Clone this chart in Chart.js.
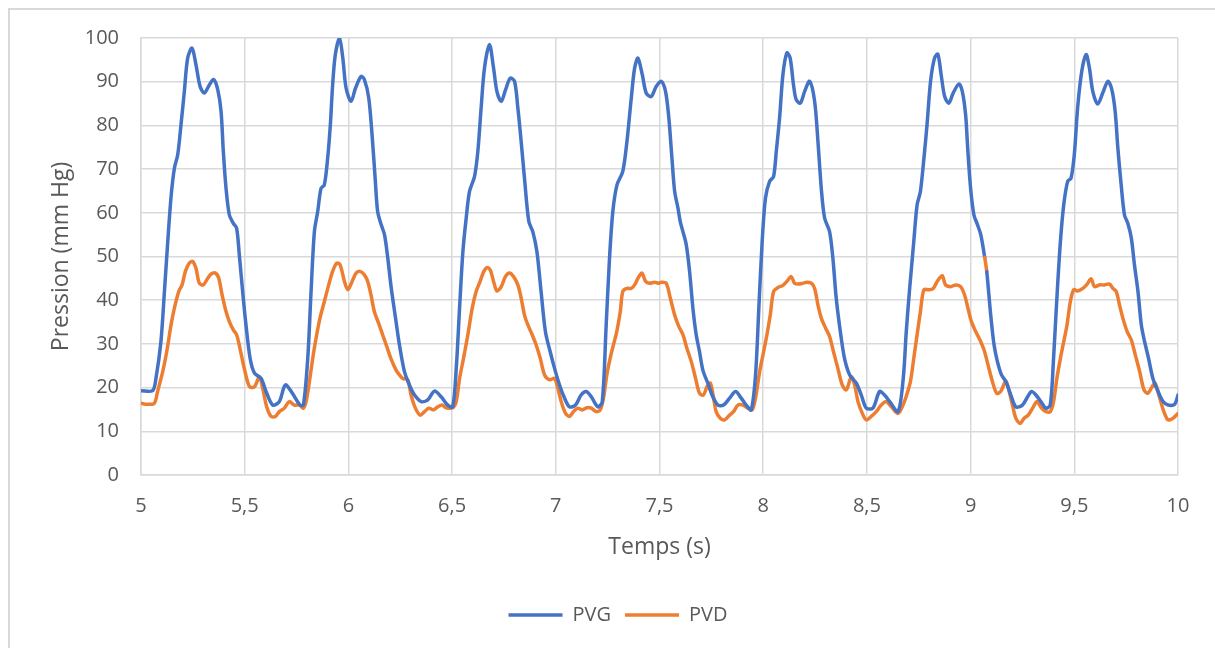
<!DOCTYPE html>
<html><head><meta charset="utf-8">
<script src="https://cdn.jsdelivr.net/npm/chart.js@4"></script>
<style>
html,body{margin:0;padding:0;background:#fff;}
#frame{position:absolute;left:8px;top:8px;width:1207px;height:640px;border-left:2px solid #d9d9d9;border-top:2px solid #d9d9d9;box-sizing:border-box;}
#wrap{position:absolute;left:0;top:0;width:1215px;height:648px;}
</style></head><body>
<div id="frame"></div>
<div id="wrap"><canvas id="c" width="1215" height="648"></canvas></div>
<script>
// X ticks (s) and Y range
const xTicks = [5, 5.5, 6, 6.5, 7, 7.5, 8, 8.5, 9, 9.5, 10];
const yTicks = [0, 10, 20, 30, 40, 50, 60, 70, 80, 90, 100];

// PVG (pression ventriculaire gauche)
const pvgTimes = [5.0,5.056,5.072,5.096,5.113,5.129,5.145,5.161,5.177,5.193,5.209,5.225,5.246,5.265,5.285,5.305,5.33,5.35,5.37,5.386,5.397,5.41,5.426,5.445,5.461,5.474,5.49,5.506,5.526,5.547,5.579,5.603,5.635,5.667,5.696,5.73,5.767,5.783,5.804,5.82,5.836,5.852,5.868,5.884,5.9,5.913,5.924,5.937,5.957,5.973,5.989,6.013,6.034,6.061,6.077,6.098,6.114,6.129,6.141,6.158,6.174,6.19,6.206,6.23,6.246,6.27,6.294,6.319,6.351,6.383,6.415,6.447,6.479,6.503,6.52,6.536,6.552,6.568,6.584,6.608,6.624,6.64,6.656,6.68,6.7,6.716,6.737,6.758,6.78,6.801,6.817,6.833,6.849,6.87,6.889,6.909,6.929,6.95,6.973,6.994,7.018,7.042,7.066,7.095,7.122,7.147,7.171,7.203,7.224,7.243,7.259,7.275,7.295,7.323,7.343,7.364,7.38,7.396,7.417,7.436,7.46,7.484,7.508,7.529,7.545,7.56,7.573,7.589,7.6,7.613,7.629,7.645,7.661,7.677,7.693,7.709,7.733,7.757,7.782,7.809,7.838,7.867,7.894,7.918,7.942,7.963,7.979,7.995,8.011,8.031,8.05,8.063,8.079,8.095,8.114,8.13,8.146,8.159,8.179,8.2,8.224,8.248,8.264,8.28,8.296,8.32,8.336,8.352,8.372,8.392,8.417,8.449,8.473,8.497,8.529,8.561,8.585,8.61,8.65,8.675,8.69,8.705,8.726,8.742,8.758,8.775,8.79,8.807,8.826,8.842,8.858,8.875,8.895,8.916,8.944,8.96,8.976,8.987,9.0,9.016,9.033,9.049,9.068,9.078,9.097,9.113,9.129,9.149,9.17,9.194,9.218,9.25,9.275,9.294,9.315,9.339,9.363,9.384,9.4,9.416,9.433,9.449,9.468,9.484,9.5,9.516,9.536,9.557,9.573,9.589,9.613,9.637,9.662,9.681,9.697,9.71,9.726,9.742,9.758,9.775,9.79,9.807,9.823,9.839,9.858,9.879,9.904,9.928,9.952,9.984,10.0];
const pvgValues = [19.3,19.3,22.1,30.5,42,53.4,63.7,70.2,73.3,80.2,87.8,95.4,97.7,93.9,88.9,87.4,89.3,90.5,88.2,83.2,74,65.6,59.5,57.6,56.5,50.4,42,34.4,26.7,23.3,22.1,19.1,16,16.8,20.6,18.7,16,16,26.7,42,55.7,60.3,65.6,66.4,72.5,80.2,89.3,96.2,100,95.4,88.5,85.5,88.5,91.2,90.5,86.3,77.9,67.9,60.3,57.3,55,49.6,43,35,29.8,23.7,20.6,18.3,16.8,17.2,19.2,17.9,16,15.6,24.4,38.2,51.1,58.8,64.9,68.3,74,84,93.1,98.5,93.1,87.8,85.5,88.2,90.8,90.1,84,76.3,67.9,58,55.7,51.1,42,32.8,28.2,24.4,20.6,17.6,15.6,16,18.3,19.1,17.9,15.6,16.8,34.4,49.6,60.3,66.4,69.5,76.3,86.3,93.1,95.4,91.6,87.4,86.6,88.9,90.1,87.8,81.7,72.5,64.9,61.1,58,55.7,52.7,46.6,38.2,32.1,28.2,24,21,17.9,16,16,17.6,19.1,17.6,16,14.9,22.9,38.2,53.4,63.4,67.2,68.3,74,81.7,91.6,96.6,95.4,89.3,85.9,85.1,87.8,90.1,85.5,76.3,65.6,58.8,55.7,49.6,40.5,32.8,26.7,22.9,21,18.3,15.3,15.3,19.1,18.3,16.8,14.5,22,33,42,53.4,61.8,64.9,72.5,80.2,90.1,95.4,96.3,91.6,86.6,85.1,87.4,89.5,87.8,82.4,74,65.6,59.5,57.3,55,49.8,46.5,36.6,29.8,26,22.9,21.4,18.3,15.6,16,17.9,19.1,18.3,16.8,15.3,16,26.7,40.5,53.4,61.8,67.2,67.9,73.3,84,92.4,96.2,93.1,87.8,84.9,87.4,90.1,88.2,83.2,74.8,66.4,59.5,57.6,54.2,48.1,42,34.4,30.5,26.7,22.1,19.1,16.8,16,16.2,18.3];

// PVD (pression ventriculaire droite)
const pvdTimes = [5.0,5.03,5.064,5.08,5.105,5.124,5.145,5.161,5.182,5.198,5.214,5.233,5.249,5.265,5.281,5.3,5.322,5.338,5.359,5.375,5.391,5.41,5.426,5.445,5.461,5.477,5.498,5.523,5.547,5.571,5.587,5.606,5.627,5.648,5.667,5.691,5.715,5.739,5.764,5.783,5.796,5.812,5.828,5.844,5.863,5.884,5.905,5.924,5.944,5.96,5.981,5.997,6.018,6.037,6.056,6.077,6.093,6.109,6.125,6.146,6.165,6.185,6.206,6.23,6.246,6.262,6.286,6.302,6.323,6.346,6.367,6.388,6.41,6.431,6.452,6.471,6.503,6.52,6.536,6.555,6.576,6.597,6.616,6.635,6.653,6.669,6.684,6.7,6.716,6.737,6.757,6.777,6.796,6.817,6.833,6.849,6.865,6.886,6.905,6.925,6.946,6.97,6.994,7.01,7.026,7.047,7.066,7.085,7.106,7.127,7.15,7.171,7.195,7.214,7.23,7.246,7.262,7.278,7.294,7.311,7.323,7.343,7.364,7.38,7.396,7.415,7.433,7.452,7.476,7.497,7.508,7.532,7.552,7.573,7.593,7.613,7.632,7.653,7.674,7.693,7.712,7.729,7.745,7.761,7.773,7.793,7.814,7.838,7.857,7.878,7.902,7.926,7.947,7.963,7.983,8.002,8.018,8.034,8.05,8.071,8.095,8.114,8.135,8.151,8.172,8.192,8.211,8.232,8.248,8.264,8.28,8.301,8.32,8.339,8.36,8.381,8.401,8.425,8.441,8.457,8.478,8.497,8.521,8.545,8.569,8.593,8.618,8.65,8.674,8.693,8.71,8.726,8.742,8.758,8.775,8.799,8.82,8.839,8.863,8.879,8.904,8.928,8.952,8.971,8.987,9.004,9.025,9.045,9.065,9.084,9.105,9.126,9.145,9.17,9.186,9.202,9.218,9.239,9.258,9.278,9.299,9.32,9.342,9.363,9.384,9.4,9.416,9.433,9.449,9.465,9.481,9.497,9.516,9.541,9.562,9.581,9.597,9.621,9.645,9.67,9.686,9.702,9.718,9.734,9.755,9.775,9.794,9.815,9.836,9.855,9.875,9.89,9.912,9.932,9.952,9.976,9.992,10.0];
const pvdValues = [16.4,16.2,16.4,19.1,23.7,28.2,34.4,38.2,42,43.5,46.6,48.5,48.9,47.3,43.9,43.5,45,46,46.2,45,41.2,37.4,35.1,33.2,32.1,29,24.4,20.2,20.2,22.5,19.8,15.6,13.4,13.4,14.5,15.3,16.8,16,16,15.3,16.8,21.4,26.7,31.3,35.9,39.7,43.5,46.6,48.5,48.1,44.3,42.4,44.3,46.2,46.6,45.8,44.3,41.2,37.4,34.7,32.1,29.4,26.5,24,22.9,22.1,21.8,18.3,15.3,13.7,14.5,15.3,14.9,15.6,16,15.4,15.4,16.8,22.1,26.7,32.1,38.2,42,44.3,46.6,47.5,46.9,44.3,42.1,43.1,45.4,46.2,45.4,43.5,40.5,36.6,34.4,32.1,29.8,26.7,22.9,21.8,22.1,19.8,16.8,14.1,13.4,14.5,15.3,14.9,15.4,15.3,14.5,14.9,17.6,22.9,26.7,29.8,32.8,37.4,42,42.7,42.7,43.5,45,46.2,44.3,43.9,44.1,43.9,44.1,43.9,40.5,36.6,34,32.1,29,26,22.1,18.7,18.3,20.2,21,17.6,14.5,13,12.6,13.7,14.5,16,16,15.3,14.9,17.6,23.7,28.2,32.1,36.6,42,42.9,43.4,44.3,45.4,43.9,43.7,43.9,44.1,43.9,42.7,38.9,35.9,33.6,31.7,28.2,24.4,20.6,19.5,22.5,20.6,16.8,14.1,12.6,13.4,14.5,16,16.8,15.6,14.1,16,18.5,21.4,26.7,32.1,37.4,42.4,42.4,42.7,44.3,45.6,43.5,43.1,43.5,43.1,41.2,38.2,35.1,32.8,30.9,28.6,25.2,21.4,18.7,19.1,21.5,19.1,16,13,11.8,13,13.7,15.3,16.8,15.3,14.5,14.5,16.8,22.1,26.7,30.5,34.4,39.7,42.4,42.1,42.7,43.7,44.9,43.1,43.5,43.5,43.7,42.7,42,38.9,35.9,32.8,30.9,27.5,23.7,19.5,18.7,20.2,21,17.6,14.5,12.6,13,13.7,14.1];

const BLUE = '#4472C4', ORANGE = '#ED7D31';
const TXT = '#595959', GRID = '#d9d9d9';
const FONT = '"Open Sans", Lato, sans-serif';
const fmt = v => String(Math.round(v * 10) / 10).replace('.', ',');

new Chart(document.getElementById('c'), {
  type: 'line',
  data: {
    datasets: [
      { label: 'PVG', data: pvgTimes.map((t, i) => ({ x: t, y: pvgValues[i] })),
        borderColor: BLUE, backgroundColor: BLUE, borderWidth: 3.5, pointRadius: 0, tension: 0.3,
        borderCapStyle: 'round', borderJoinStyle: 'round',
        segment: { borderColor: c => (c.p0.parsed.x >= 9.067 && c.p1.parsed.x <= 9.079) ? ORANGE : undefined } },
      { label: 'PVD', data: pvdTimes.map((t, i) => ({ x: t, y: pvdValues[i] })),
        borderColor: ORANGE, backgroundColor: ORANGE, borderWidth: 3.5, pointRadius: 0, tension: 0.3,
        borderCapStyle: 'round', borderJoinStyle: 'round' }
    ]
  },
  options: {
    responsive: false, animation: false,
    layout: { padding: { left: 58, right: 37, top: 38, bottom: 13 } },
    scales: {
      x: {
        type: 'linear', min: xTicks[0], max: xTicks[xTicks.length - 1],
        afterBuildTicks: a => { a.ticks = xTicks.map(v => ({ value: v })); },
        ticks: { callback: v => fmt(v), color: TXT, font: { family: FONT, size: 20 }, padding: 19, maxRotation: 0 },
        grid: { color: GRID, lineWidth: 1.5, drawTicks: false },
        border: { color: GRID, width: 1.5 },
        title: { display: true, text: 'Temps (s)', color: TXT, font: { family: FONT, size: 23 }, padding: { top: 0, bottom: 30 } },
        afterFit: a => { a.height = 116; }
      },
      y: {
        min: yTicks[0], max: yTicks[yTicks.length - 1],
        afterBuildTicks: a => { a.ticks = yTicks.map(v => ({ value: v })); },
        ticks: { color: TXT, font: { family: FONT, size: 20 }, padding: 22 },
        grid: { color: GRID, lineWidth: 1.5, drawTicks: false },
        border: { color: GRID, width: 1.5 },
        title: { display: true, text: 'Pression (mm Hg)', color: TXT, font: { family: FONT, size: 23 }, padding: { top: -10, bottom: 0 } },
        afterFit: a => { a.width = 83; }
      }
    },
    plugins: {
      legend: { position: 'bottom',
        labels: { usePointStyle: true, pointStyle: 'line', pointStyleWidth: 54, boxHeight: 20,
          color: TXT, font: { family: FONT, size: 20 }, padding: 14 } },
      tooltip: { enabled: false }
    }
  }
});
</script>
</body></html>
